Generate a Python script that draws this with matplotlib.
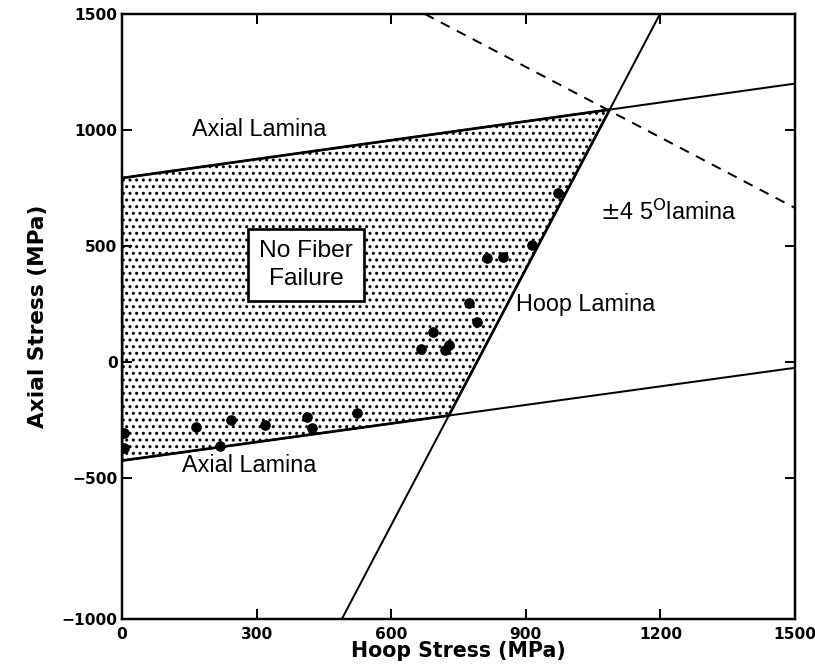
import numpy as np
import matplotlib
matplotlib.use('Agg')
import matplotlib.pyplot as plt
from matplotlib.patches import Polygon

# ---- data (MPa) ----
upper_axial_x = [0, 1500]
upper_axial_y = [793, 1200]
lower_axial_x = [0, 1500]
lower_axial_y = [-425, -25]
hoop_x = [490, 1199]
hoop_y = [-1000, 1500]
lam45_x = [675, 1500]
lam45_y = [1500, 664]

test_hoop = [5, 5, 165, 218, 243, 319, 412, 424, 524,
             666, 693, 720, 728, 773, 791, 814, 849, 914, 972]
test_axial = [-306, -371, -280, -362, -250, -272, -237, -284, -220,
              56, 129, 52, 75, 254, 172, 448, 453, 504, 728]

x_ticks = [0, 300, 600, 900, 1200, 1500]
y_ticks = [-1000, -500, 0, 500, 1000, 1500]

# the scanned original is stretched below -500 MPa
STRETCH = 141 / 116


def y_fwd(y):
    y = np.asarray(y, dtype=float)
    return np.where(y < -500, -500 + (y + 500) * STRETCH, y)


def y_inv(v):
    v = np.asarray(v, dtype=float)
    return np.where(v < -500, -500 + (v + 500) / STRETCH, v)


def intersect(ax_, ay_, bx_, by_):
    # intersection of two straight (on screen) lines, worked out in scaled y
    p1, p2 = np.array([ax_[0], y_fwd(ay_[0])]), np.array([ax_[1], y_fwd(ay_[1])])
    q1, q2 = np.array([bx_[0], y_fwd(by_[0])]), np.array([bx_[1], y_fwd(by_[1])])
    d1, d2 = p2 - p1, q2 - q1
    t = np.cross(q1 - p1, d2) / np.cross(d1, d2)
    px, py = p1 + t * d1
    return float(px), float(y_inv(py))


top_right = intersect(upper_axial_x, upper_axial_y, hoop_x, hoop_y)
bot_right = intersect(lower_axial_x, lower_axial_y, hoop_x, hoop_y)
region = [(0, upper_axial_y[0]), top_right, bot_right, (0, lower_axial_y[0])]

DPI = 80
plt.rcParams['hatch.linewidth'] = 1.6
fig = plt.figure(figsize=(815 / DPI, 667 / DPI), dpi=DPI)
ax = fig.add_axes([122 / 815, 1 - 619 / 667, (795 - 122) / 815, (619 - 14) / 667])
ax.set_yscale('function', functions=(y_fwd, y_inv))

ax.add_patch(Polygon(region, closed=True, facecolor='white', edgecolor='black',
                     hatch='..', linewidth=2.4, zorder=1))

ax.plot(upper_axial_x, upper_axial_y, color='black', linewidth=1.8, zorder=2)
ax.plot(lower_axial_x, lower_axial_y, color='black', linewidth=1.8, zorder=2)
ax.plot(hoop_x, hoop_y, color='black', linewidth=1.8, zorder=2)
ax.plot(lam45_x, lam45_y, color='black', linewidth=1.8, linestyle=(0, (5, 4)), zorder=2)

ax.plot(test_hoop, test_axial, 'o', color='black', markersize=8.5, zorder=3)

txt = dict(family='Liberation Sans', fontsize=21, color='black')
ax.text(156, 1000, 'Axial Lamina', ha='left', va='center', **txt)
ax.text(134, -448, 'Axial Lamina', ha='left', va='center', **txt)
ax.text(878, 246, 'Hoop Lamina', ha='left', va='center', **txt)
ax.text(1065, 647, r'$\pm$4 5$^{\mathrm{O}}$lamina', ha='left', va='center', **txt)
ax.text(410, 418, 'No Fiber\nFailure', ha='center', va='center', linespacing=1.3,
        bbox=dict(boxstyle='square,pad=0.45', facecolor='white', edgecolor='black',
                  linewidth=2.4), zorder=4,
        **{**txt, 'fontsize': 22})

ax.set_xlim(0, 1500)
ax.set_ylim(-1000, 1500)
ax.set_xticks(x_ticks)
ax.set_yticks(y_ticks)
ax.minorticks_off()
ax.set_xticklabels([str(v) for v in x_ticks])
ax.set_yticklabels([str(v).replace('-', '\u2212') for v in y_ticks])
ax.tick_params(direction='in', length=9, width=1.8, top=True, right=True,
               labelsize=14, pad=4)
ax.tick_params(axis='x', pad=7)
for lab in ax.get_xticklabels() + ax.get_yticklabels():
    lab.set_fontweight('bold')
for s in ax.spines.values():
    s.set_linewidth(2.2)

ax.set_xlabel('Hoop Stress (MPa)', fontsize=18.5, fontweight='bold', labelpad=-1)
ax.set_ylabel('Axial Stress (MPa)', fontsize=19.5, fontweight='bold', labelpad=12)

fig.savefig('out.png', dpi=DPI)
